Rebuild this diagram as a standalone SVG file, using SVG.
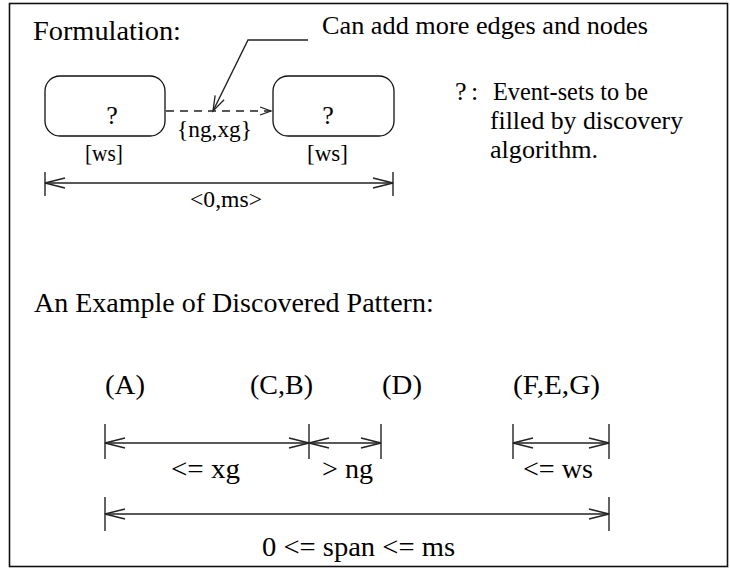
<svg xmlns="http://www.w3.org/2000/svg" width="730" height="568" viewBox="0 0 730 568">
<style>
text{font-family:"Liberation Serif","Times New Roman",serif;fill:#000;}
.ln{stroke:#222;stroke-width:1.4;fill:none;}
.box{stroke:#111;stroke-width:1.3;fill:#fff;}
.t28{font-size:28px;}
.t26{font-size:26px;}
.t23{font-size:23.5px;}
</style>
<defs>
<marker id="ah" markerUnits="userSpaceOnUse" markerWidth="24" markerHeight="14" viewBox="-21 -7 23 14" refX="0" refY="0" orient="auto-start-reverse">
<path d="M-20,-5 L0,0 L-20,5" fill="none" stroke="#222" stroke-width="1.4"/>
</marker>
<marker id="ahs" markerUnits="userSpaceOnUse" markerWidth="14" markerHeight="12" viewBox="-12 -6 14 12" refX="0" refY="0" orient="auto">
<path d="M-11,-4 L0,0 L-11,4" fill="none" stroke="#222" stroke-width="1.3"/>
</marker>
<marker id="ahl" markerUnits="userSpaceOnUse" markerWidth="18" markerHeight="14" viewBox="-16 -7 18 14" refX="0" refY="0" orient="auto">
<path d="M-15,-5 L0,0 L-15,5" fill="none" stroke="#222" stroke-width="1.3"/>
</marker>
</defs>
<rect x="9.5" y="3.5" width="718" height="563" fill="#fff" stroke="#111" stroke-width="1.6"/>

<g id="title-formulation"><text class="t28" x="33" y="40" textLength="148" lengthAdjust="spacingAndGlyphs">Formulation:</text></g>
<g id="note-add"><text class="t26" x="322" y="34" textLength="326" lengthAdjust="spacingAndGlyphs">Can add more edges and nodes</text></g>

<g id="node-left">
<rect class="box" x="45" y="76" width="120" height="60" rx="15" ry="15"/>
<text class="t26" x="112" y="124" text-anchor="middle">?</text>
<text class="t23" x="85" y="161" textLength="38" lengthAdjust="spacingAndGlyphs">[ws]</text>
</g>
<g id="node-right">
<rect class="box" x="273" y="76" width="121" height="60" rx="15" ry="15"/>
<text class="t26" x="328" y="124" text-anchor="middle">?</text>
<text class="t23" x="307" y="161" textLength="41" lengthAdjust="spacingAndGlyphs">[ws]</text>
</g>

<g id="legend">
<text class="t26" x="455" y="100">?</text>
<text class="t26" x="471" y="100">:</text>
<text class="t26" x="493" y="100" textLength="155" lengthAdjust="spacingAndGlyphs">Event-sets to be</text>
<text class="t26" x="490" y="129" textLength="193" lengthAdjust="spacingAndGlyphs">filled by discovery</text>
<text class="t26" x="490" y="158" textLength="108" lengthAdjust="spacingAndGlyphs">algorithm.</text>
</g>

<g id="title-example"><text class="t28" x="34" y="312">An Example of Discovered Pattern:</text></g>

<g id="event-A"><text class="t28" x="105" y="394" textLength="40" lengthAdjust="spacingAndGlyphs">(A)</text></g>
<g id="event-CB"><text class="t28" x="250" y="394" textLength="63" lengthAdjust="spacingAndGlyphs">(C,B)</text></g>
<g id="event-D"><text class="t28" x="382" y="394" textLength="40" lengthAdjust="spacingAndGlyphs">(D)</text></g>
<g id="event-FEG"><text class="t28" x="513" y="394" textLength="87" lengthAdjust="spacingAndGlyphs">(F,E,G)</text></g>

<g id="connectors">
<polyline class="ln" points="308,40 248,40 213,111" marker-end="url(#ahl)"/>
<line class="ln" x1="166" y1="111" x2="271" y2="111" stroke-dasharray="8,6" marker-end="url(#ahs)"/>
<line class="ln" x1="45" y1="183" x2="393" y2="183" marker-start="url(#ah)" marker-end="url(#ah)"/>
<line class="ln" x1="45" y1="172" x2="45" y2="196"/>
<line class="ln" x1="393" y1="172" x2="393" y2="196"/>
<line class="ln" x1="105" y1="443" x2="309" y2="443" marker-start="url(#ah)" marker-end="url(#ah)"/>
<line class="ln" x1="309" y1="443" x2="381" y2="443" marker-start="url(#ah)" marker-end="url(#ah)"/>
<line class="ln" x1="513" y1="443" x2="609" y2="443" marker-start="url(#ah)" marker-end="url(#ah)"/>
<line class="ln" x1="105" y1="424" x2="105" y2="459"/>
<line class="ln" x1="309" y1="424" x2="309" y2="459"/>
<line class="ln" x1="381" y1="424" x2="381" y2="459"/>
<line class="ln" x1="513" y1="424" x2="513" y2="459"/>
<line class="ln" x1="609" y1="424" x2="609" y2="459"/>
<line class="ln" x1="105" y1="514" x2="609" y2="514" marker-start="url(#ah)" marker-end="url(#ah)"/>
<line class="ln" x1="105" y1="497" x2="105" y2="531"/>
<line class="ln" x1="609" y1="497" x2="609" y2="531"/>
</g>

<g id="labels">
<text class="t23" x="177" y="137" textLength="75" lengthAdjust="spacingAndGlyphs">{ng,xg}</text>
<text class="t23" x="190" y="207" textLength="72" lengthAdjust="spacingAndGlyphs">&lt;0,ms&gt;</text>
<text class="t28" x="171" y="478" textLength="69" lengthAdjust="spacingAndGlyphs">&lt;= xg</text>
<text class="t28" x="322" y="478" textLength="51" lengthAdjust="spacingAndGlyphs">&gt; ng</text>
<text class="t28" x="523" y="478" textLength="70" lengthAdjust="spacingAndGlyphs">&lt;= ws</text>
<text class="t28" x="262" y="556" textLength="193" lengthAdjust="spacingAndGlyphs">0 &lt;= span &lt;= ms</text>
</g>
</svg>
